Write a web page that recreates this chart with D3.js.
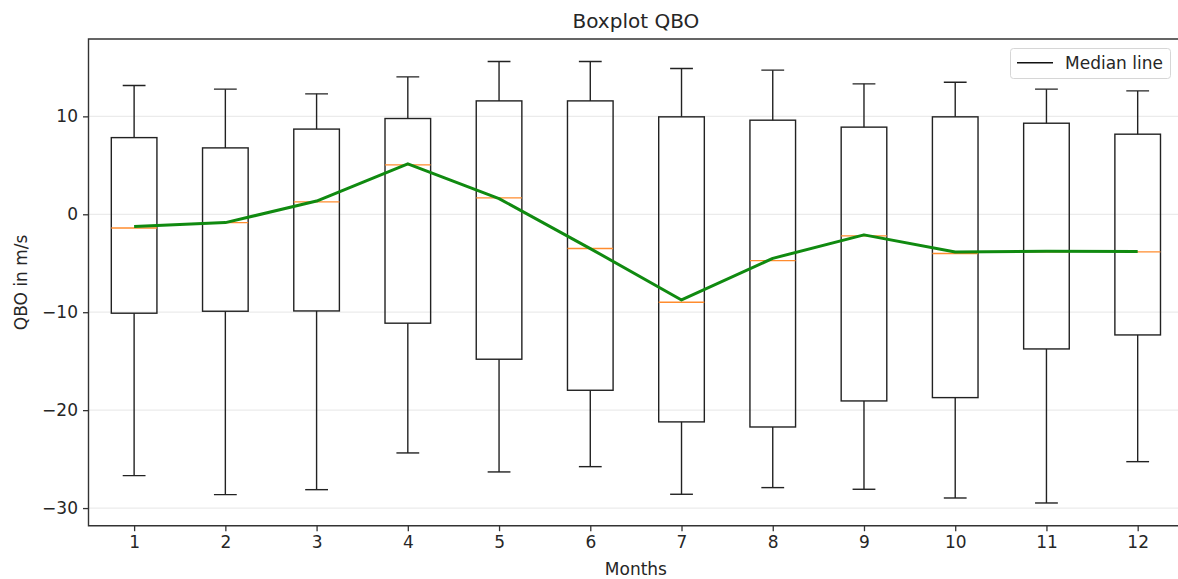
<!DOCTYPE html>
<html>
<head>
<meta charset="utf-8">
<script src="https://cdn.jsdelivr.net/npm/d3@7"></script>
<style>
  html, body { margin: 0; padding: 0; background: #fff; }
  svg { display: block; font-family: "DejaVu Sans", sans-serif; }
</style>
</head>
<body>
<svg id="chart" width="1178" height="579"></svg>
<script>
// Monthly QBO distribution (m/s)
const months      = [1, 2, 3, 4, 5, 6, 7, 8, 9, 10, 11, 12];
const whiskerHigh = [13.15, 12.78, 12.3, 14.03, 15.6, 15.6, 14.88, 14.72, 13.32, 13.49, 12.78, 12.6];
const q3          = [7.83, 6.78, 8.7, 9.78, 11.58, 11.58, 9.95, 9.61, 8.9, 9.95, 9.3, 8.18];
const medians     = [-1.4, -0.85, 1.27, 5.05, 1.68, -3.5, -8.98, -4.73, -2.2, -4.01, -3.84, -3.84];
const q1          = [-10.1, -9.9, -9.87, -11.12, -14.8, -17.97, -21.2, -21.72, -19.06, -18.72, -13.75, -12.32];
const whiskerLow  = [-26.69, -28.63, -28.12, -24.37, -26.31, -25.77, -28.59, -27.91, -28.08, -28.97, -29.48, -25.26];
const medianLine  = [-1.25, -0.85, 1.35, 5.15, 1.6, -3.5, -8.75, -4.5, -2.1, -3.85, -3.78, -3.8];
const yTicks      = [-30, -20, -10, 0, 10];

const svg = d3.select("#chart");
const W = 1178, H = 579;
const pLeft = 88.5, pRight = 1183.3, pTop = 39, pBottom = 525.7;

const x = d3.scaleLinear().domain([0.5, 12.5]).range([pLeft, pRight]);
const y = d3.scaleLinear().domain([-31.8, 17.9]).range([pBottom, pTop]);

svg.append("rect").attr("width", W).attr("height", H).attr("fill", "#fff");

svg.append("defs").append("clipPath").attr("id", "plot")
  .append("rect").attr("x", pLeft).attr("y", pTop)
  .attr("width", pRight - pLeft).attr("height", pBottom - pTop);

// horizontal grid
svg.append("g").selectAll("line").data(yTicks).join("line")
  .attr("x1", pLeft).attr("x2", pRight)
  .attr("y1", d => y(d)).attr("y2", d => y(d))
  .attr("stroke", "#ebebeb").attr("stroke-width", 1.2);

const stroke = "#222";
const lw = 1.4;
const boxW = 0.25; // half width in data units
const capW = 0.125;

const data = months.map((m, i) => ({
  m, hi: whiskerHigh[i], q3: q3[i], med: medians[i], q1: q1[i], lo: whiskerLow[i]
}));

const g = svg.append("g").attr("clip-path", "url(#plot)");
const bx = g.selectAll("g.box").data(data).join("g").attr("class", "box");

// whiskers
bx.append("line").attr("x1", d => x(d.m)).attr("x2", d => x(d.m))
  .attr("y1", d => y(d.q3)).attr("y2", d => y(d.hi))
  .attr("stroke", stroke).attr("stroke-width", lw);
bx.append("line").attr("x1", d => x(d.m)).attr("x2", d => x(d.m))
  .attr("y1", d => y(d.q1)).attr("y2", d => y(d.lo))
  .attr("stroke", stroke).attr("stroke-width", lw);
// caps
bx.append("line").attr("x1", d => x(d.m - capW)).attr("x2", d => x(d.m + capW))
  .attr("y1", d => y(d.hi)).attr("y2", d => y(d.hi))
  .attr("stroke", stroke).attr("stroke-width", lw);
bx.append("line").attr("x1", d => x(d.m - capW)).attr("x2", d => x(d.m + capW))
  .attr("y1", d => y(d.lo)).attr("y2", d => y(d.lo))
  .attr("stroke", stroke).attr("stroke-width", lw);
// boxes
bx.append("rect")
  .attr("x", d => x(d.m - boxW)).attr("width", d => x(d.m + boxW) - x(d.m - boxW))
  .attr("y", d => y(d.q3)).attr("height", d => y(d.q1) - y(d.q3))
  .attr("fill", "none").attr("stroke", stroke).attr("stroke-width", lw);
// medians
bx.append("line").attr("x1", d => x(d.m - boxW)).attr("x2", d => x(d.m + boxW))
  .attr("y1", d => y(d.med)).attr("y2", d => y(d.med))
  .attr("stroke", "#ff8c2e").attr("stroke-width", 1.4);

// median line across months
const line = d3.line().x((d, i) => x(months[i])).y(d => y(d));
g.append("path").datum(medianLine).attr("d", line)
  .attr("fill", "none").attr("stroke", "#108a10").attr("stroke-width", 3)
  .attr("stroke-linejoin", "round");

// spines
svg.append("path")
  .attr("d", `M${pRight},${pTop}H${pLeft}V${pBottom}H${pRight}`)
  .attr("fill", "none").attr("stroke", "#333").attr("stroke-width", 1.4);

// axes
const fs = 17;
const xAxis = svg.append("g").attr("transform", `translate(0,${pBottom})`)
  .call(d3.axisBottom(x).tickValues(months).tickSize(5.5).tickPadding(5).tickFormat(d3.format("d")));
const yAxis = svg.append("g").attr("transform", `translate(${pLeft},0)`)
  .call(d3.axisLeft(y).tickValues(yTicks).tickSize(5.5).tickPadding(5)
    .tickFormat(d => d < 0 ? "\u2212" + Math.abs(d) : String(d)));
[xAxis, yAxis].forEach(a => {
  a.select(".domain").remove();
  a.selectAll("line").attr("stroke", "#333").attr("stroke-width", 1.3);
  a.selectAll("text").attr("fill", "#262626").style("font-size", fs + "px")
    .style("font-family", "'DejaVu Sans', sans-serif");
});

// labels
svg.append("text").attr("x", (pLeft + pRight) / 2).attr("y", 28)
  .attr("text-anchor", "middle").style("font-size", "20px").attr("fill", "#262626")
  .text("Boxplot QBO");
svg.append("text").attr("x", (pLeft + pRight) / 2).attr("y", 575)
  .attr("text-anchor", "middle").style("font-size", fs + "px").attr("fill", "#262626")
  .text("Months");
svg.append("text").attr("transform", `translate(27,${(pTop + pBottom) / 2}) rotate(-90)`)
  .attr("text-anchor", "middle").style("font-size", fs + "px").attr("fill", "#262626")
  .text("QBO in m/s");

// legend
const lg = svg.append("g");
lg.append("rect").attr("x", 1010.5).attr("y", 48.5).attr("width", 160).attr("height", 30)
  .attr("rx", 3).attr("fill", "#fff").attr("fill-opacity", 0.8)
  .attr("stroke", "#d6d6d6").attr("stroke-width", 1);
lg.append("line").attr("x1", 1017).attr("x2", 1053).attr("y1", 62.7).attr("y2", 62.7)
  .attr("stroke", "#111").attr("stroke-width", 1.5);
lg.append("text").attr("x", 1065).attr("y", 69).style("font-size", fs + "px")
  .attr("fill", "#262626").text("Median line");
</script>
</body>
</html>
